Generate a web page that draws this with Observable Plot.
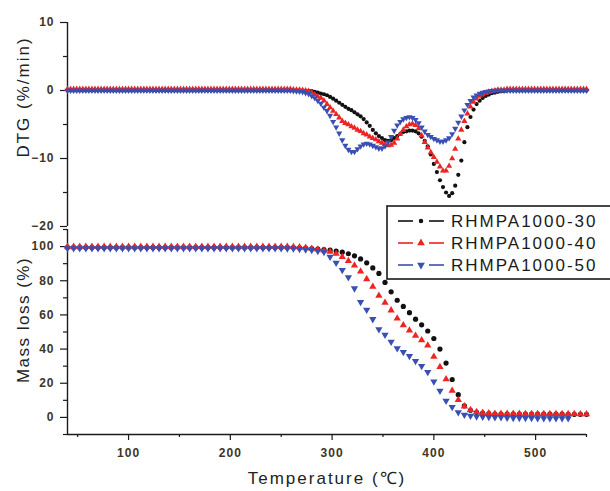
<!DOCTYPE html>
<html><head><meta charset="utf-8">
<script src="https://cdn.jsdelivr.net/npm/d3@7"></script>
<script src="https://cdn.jsdelivr.net/npm/@observablehq/plot@0.6"></script>
<style>
html,body{margin:0;padding:0;background:#fff;}
#wrap{position:relative;width:610px;height:491px;overflow:hidden;font-family:"Liberation Sans",Arial,sans-serif;background:#fff;}
.pane{position:absolute;left:0;}
.pane svg{overflow:visible;background:transparent;}
g[aria-label$="tick label"]{fill:#3d3525;font-weight:bold;letter-spacing:1px;}
.ttl{position:absolute;color:#222;white-space:nowrap;line-height:1;}
#legend{position:absolute;left:0;top:0;pointer-events:none;}
</style></head><body>
<div id="wrap">
  <div class="pane" id="top" style="top:0px"></div>
  <div class="pane" id="bot" style="top:220px"></div>
  <div class="ttl" style="left:23px;top:97px;font-size:17px;letter-spacing:2px;transform:translate(-50%,-50%) rotate(-90deg);">DTG (%/min)</div>
  <div class="ttl" style="left:23px;top:320px;font-size:17px;letter-spacing:1.5px;transform:translate(-50%,-50%) rotate(-90deg);">Mass loss (%)</div>
  <div class="ttl" style="left:327px;top:478px;font-size:17px;letter-spacing:2px;transform:translate(-50%,-50%);">Temperature (℃)</div>
</div>
<script>
// ---------- DATA ----------
const seriesNames = ["RHMPA1000-30", "RHMPA1000-40", "RHMPA1000-50"];
const seriesColors = ["#111111", "#ee2424", "#3a4fb2"];

// DTG sampled every 3 °C
const dtgTemps = [
  40,43,46,49,52,55,58,61,64,67,
  70,73,76,79,82,85,88,91,94,97,
  100,103,106,109,112,115,118,121,124,127,
  130,133,136,139,142,145,148,151,154,157,
  160,163,166,169,172,175,178,181,184,187,
  190,193,196,199,202,205,208,211,214,217,
  220,223,226,229,232,235,238,241,244,247,
  250,253,256,259,262,265,268,271,274,277,
  280,283,286,289,292,295,298,301,304,307,
  310,313,316,319,322,325,328,331,334,337,
  340,343,346,349,352,355,358,361,364,367,
  370,373,376,379,382,385,388,391,394,397,
  400,403,406,409,412,415,418,421,424,427,
  430,433,436,439,442,445,448,451,454,457,
  460,463,466,469,472,475,478,481,484,487,
  490,493,496,499,502,505,508,511,514,517,
  520,523,526,529,532,535,538,541,544,547,
  550
];
const dtg30 = [
  0,0,0,0,0,0,0,0,0,0,
  0,0,0,0,0,0,0,0,0,0,
  0,0,0,0,0,0,0,0,0,0,
  0,0,0,0,0,0,0,0,0,0,
  0,0,0,0,0,0,0,0,0,0,
  0,0,0,0,0,0,0,0,0,0,
  0,0,0,0,0,0,0,0,0,0,
  0,0,0,0,0,0,0,0,-0.05,-0.1,
  -0.1,-0.2,-0.3,-0.45,-0.55,-0.7,-0.95,-1.2,-1.5,-1.8,
  -2.1,-2.4,-2.7,-2.9,-3.2,-3.5,-3.8,-4.2,-4.7,-5.2,
  -5.8,-6.3,-6.7,-7.0,-7.3,-7.4,-7.3,-7.0,-6.7,-6.4,
  -6.1,-6.0,-5.9,-5.9,-6.0,-6.3,-6.8,-7.4,-8.2,-9.4,
  -10.8,-12.0,-13.2,-14.2,-15.0,-15.5,-15.1,-14.0,-12.4,-10.3,
  -7.6,-5.4,-3.9,-2.8,-2.0,-1.5,-1.1,-0.8,-0.6,-0.4,
  -0.3,-0.2,-0.1,-0.1,0,0,0,0,0,0,
  0,0,0,0,0,0,0,0,0,0,
  0,0,0,0,0,0,0,0,0,0,
  0
];
const dtg40 = [
  0.2,0.2,0.2,0.2,0.2,0.2,0.2,0.2,0.2,0.2,
  0.2,0.2,0.2,0.2,0.2,0.2,0.2,0.2,0.2,0.2,
  0.2,0.2,0.2,0.2,0.2,0.2,0.2,0.2,0.2,0.2,
  0.2,0.2,0.2,0.2,0.2,0.2,0.2,0.2,0.2,0.2,
  0.2,0.2,0.2,0.2,0.2,0.2,0.2,0.2,0.2,0.2,
  0.2,0.2,0.2,0.2,0.2,0.2,0.2,0.2,0.2,0.2,
  0.2,0.2,0.2,0.2,0.2,0.2,0.2,0.2,0.2,0.2,
  0.2,0.2,0.2,0.2,0.15,0.1,0.1,0.05,0,-0.1,
  -0.3,-0.6,-0.9,-1.1,-1.5,-2.0,-2.5,-3.0,-3.5,-4.0,
  -4.5,-4.8,-5.0,-5.3,-5.5,-5.8,-6.0,-6.3,-6.5,-6.8,
  -7.0,-7.2,-7.5,-7.7,-7.9,-8.1,-8.0,-7.7,-7.1,-6.4,
  -5.8,-5.3,-5.0,-4.9,-5.1,-5.6,-6.6,-7.6,-8.4,-9.1,
  -9.8,-10.5,-11.2,-11.8,-11.8,-11.1,-10.0,-8.6,-7.1,-5.8,
  -4.5,-3.4,-2.4,-1.7,-1.2,-0.8,-0.6,-0.4,-0.2,-0.1,
  0,0.1,0.1,0.1,0.2,0.2,0.2,0.2,0.2,0.2,
  0.2,0.2,0.2,0.2,0.2,0.2,0.2,0.2,0.2,0.2,
  0.2,0.2,0.2,0.2,0.2,0.2,0.2,0.2,0.2,0.2,
  0.2
];
const dtg50 = [
  0,0,0,0,0,0,0,0,0,0,
  0,0,0,0,0,0,0,0,0,0,
  0,0,0,0,0,0,0,0,0,0,
  0,0,0,0,0,0,0,0,0,0,
  0,0,0,0,0,0,0,0,0,0,
  0,0,0,0,0,0,0,0,0,0,
  0,0,0,0,0,0,0,0,0,0,
  0,0,0,0,-0.05,-0.1,-0.15,-0.2,-0.35,-0.5,
  -0.8,-1.1,-1.5,-1.9,-2.5,-3.0,-3.7,-4.6,-5.4,-6.3,
  -7.3,-8.1,-8.7,-9.0,-9.0,-8.6,-8.2,-7.9,-7.8,-7.9,
  -8.1,-8.3,-8.5,-8.5,-8.2,-7.6,-6.8,-5.9,-5.1,-4.6,
  -4.2,-4.0,-3.9,-4.0,-4.3,-4.8,-5.4,-6.0,-6.5,-6.8,
  -7.1,-7.3,-7.5,-7.5,-7.3,-7.0,-6.4,-5.6,-4.7,-3.8,
  -2.9,-2.1,-1.5,-1.0,-0.7,-0.45,-0.3,-0.2,-0.1,-0.05,
  0,0,0,0,0,0,0,0,0,0,
  0,0,0,0,0,0,0,0,0,0,
  0,0,0,0,0,0,0,0,0,0,
  0
];

// Mass loss sampled every 6 °C
const tgaTemps = [
  40,46,52,58,64,70,76,82,88,94,
  100,106,112,118,124,130,136,142,148,154,
  160,166,172,178,184,190,196,202,208,214,
  220,226,232,238,244,250,256,262,268,274,
  280,286,292,298,304,310,316,322,328,334,
  340,346,352,358,364,370,376,382,388,394,
  400,406,412,418,424,430,436,442,448,454,
  460,466,472,478,484,490,496,502,508,514,
  520,526,532,538,544,550
];
const tga30 = [
  99.5,99.5,99.5,99.5,99.5,99.5,99.5,99.5,99.5,99.5,
  99.5,99.5,99.5,99.5,99.5,99.5,99.5,99.5,99.5,99.5,
  99.5,99.5,99.5,99.5,99.5,99.5,99.5,99.5,99.5,99.5,
  99.5,99.5,99.5,99.5,99.5,99.5,99.5,99.4,99.3,99.1,
  98.8,98.5,98.2,97.9,97.4,96.7,95.8,94.6,92.8,90.5,
  87.5,84.3,79.0,73.5,68.6,65.0,61.3,57.5,54.2,50.6,
  46.2,40.0,31.8,22.2,13.3,6.8,4.2,3.0,2.5,2.2,
  2.0,2.0,2.0,2.0,2.0,1.9,1.9,1.9,1.9,1.9,
  1.9,1.9,1.8,1.8,1.8,1.8
];
const tga40 = [
  100,100,100,100,100,100,100,100,100,100,
  100,100,100,100,100,100,100,100,100,100,
  100,100,100,100,100,100,100,100,100,100,
  100,100,100,100,100,100,99.9,99.8,99.6,99.3,
  98.8,98.3,97.7,97.0,95.8,94.0,91.6,89.0,85.4,81.0,
  76.5,71.3,67.2,62.7,58.0,54.0,50.9,47.8,45.2,42.1,
  35.5,29.5,22.4,15.6,10.2,6.5,4.4,3.2,2.7,2.4,
  2.2,2.2,2.2,2.2,2.2,2.1,2.1,2.1,2.1,2.1,
  2.1,2.0,2.0,2.0,1.9,1.9
];
const tga50 = [
  99,99,99,99,99,99,99,99,99,99,
  99,99,99,99,99,99,99,99,99,99,
  99,99,99,99,99,99,99,99,99,99,
  99,99,99,99,99,99,98.9,98.8,98.6,98.3,
  97.9,97.4,96.8,94.0,90.5,86.3,82.0,75.5,67.5,63.0,
  57.5,51.6,48.3,44.3,40.4,38.2,35.9,33.0,30.0,26.5,
  21.0,15.6,9.7,6.0,3.0,1.5,0.9,0.5,0.3,0.2,
  0,0,-0.2,-0.3,-0.3,-0.4,-0.4,-0.5,-0.5,-0.5,
  -0.5,-0.5,-0.5,null,null,null
];

const xDomain = [40, 550];
const xMajor = [100, 200, 300, 400, 500];
const xMinor = [50, 150, 250, 350, 450, 550];
const dtgDomain = [-20, 10];
const dtgMajor = [-20, -10, 0, 10];
const dtgMinor = [-15, -5, 5];
const tgaDomain = [-10, 110];
const tgaMajor = [0, 20, 40, 60, 80, 100];
const tgaMinor = [-10, 10, 30, 50, 70, 90, 110];

// ---------- SYMBOLS ----------
const triangleDown = {
  draw(context, size) {
    const y = -Math.sqrt(size / (Math.sqrt(3) * 3));
    context.moveTo(0, -y * 2);
    context.lineTo(-Math.sqrt(3) * y, y);
    context.lineTo(Math.sqrt(3) * y, y);
    context.closePath();
  }
};
const seriesSymbols = ["circle", "triangle", triangleDown];
const dtgValues = [dtg30, dtg40, dtg50];
const tgaValues = [tga30, tga40, tga50];

const dtgRows = seriesNames.map((name, s) =>
  dtgTemps.map((t, i) => ({t, v: dtgValues[s][i], name})).filter(d => d.v != null));
const tgaRows = seriesNames.map((name, s) =>
  tgaTemps.map((t, i) => ({t, v: tgaValues[s][i], name})).filter(d => d.v != null));

const common = {
  width: 610,
  marginLeft: 67,
  marginRight: 24,
  style: {fontFamily: "Liberation Sans, Arial, sans-serif", fontSize: "12px", color: "#1a1a1a", background: "transparent", overflow: "visible"}
};
const axisStroke = "#1a1a1a";

// ---------- TOP: DTG ----------
const topPlot = Plot.plot({
  ...common,
  height: 228,
  marginTop: 22,
  marginBottom: 2,
  x: {domain: xDomain, axis: null},
  y: {domain: dtgDomain},
  marks: [
    Plot.ruleX([xDomain[0]], {stroke: axisStroke, strokeWidth: 1.4}),
    Plot.axisY({ticks: dtgMajor, tickSize: 7, tickPadding: 6, fontSize: 12, label: null, stroke: axisStroke, strokeWidth: 1.2}),
    Plot.axisY({ticks: dtgMinor, tickSize: 4, tickFormat: () => "", label: null, stroke: axisStroke, strokeWidth: 1.2}),
    ...dtgRows.map((rows, s) => Plot.dot(rows, {
      x: "t", y: "v", symbol: seriesSymbols[s], fill: seriesColors[s], stroke: "none",
      r: s === 0 ? 2.1 : 2.3
    }))
  ]
});
document.getElementById("top").appendChild(topPlot);

// ---------- BOTTOM: Mass loss ----------
const botPlot = Plot.plot({
  ...common,
  height: 271,
  marginTop: 9,
  marginBottom: 57,
  x: {domain: xDomain},
  y: {domain: tgaDomain},
  marks: [
    Plot.ruleX([xDomain[0]], {stroke: axisStroke, strokeWidth: 1.4}),
    Plot.ruleY([tgaDomain[0]], {stroke: axisStroke, strokeWidth: 1.4}),
    Plot.axisY({ticks: tgaMajor, tickSize: 7, tickPadding: 6, fontSize: 12, label: null, stroke: axisStroke, strokeWidth: 1.2}),
    Plot.axisY({ticks: tgaMinor, tickSize: 4, tickFormat: () => "", label: null, stroke: axisStroke, strokeWidth: 1.2}),
    Plot.axisX({ticks: xMajor, tickSize: 6, tickPadding: 8, fontSize: 12, label: null, stroke: axisStroke, strokeWidth: 1.2}),
    Plot.axisX({ticks: xMinor, tickSize: 3, tickFormat: () => "", label: null, stroke: axisStroke, strokeWidth: 1.2}),
    ...tgaRows.map((rows, s) => Plot.dot(rows, {
      x: "t", y: "v", symbol: seriesSymbols[s], fill: seriesColors[s], stroke: "none",
      r: s === 0 ? 2.6 : 2.7
    }))
  ]
});
document.getElementById("bot").appendChild(botPlot);

// ---------- LEGEND ----------
const lg = d3.select("#wrap").append("svg")
  .attr("id", "legend").attr("width", 610).attr("height", 491);
lg.append("rect").attr("x", 387).attr("y", 206).attr("width", 240).attr("height", 73)
  .attr("fill", "#fff").attr("stroke", "#1a1a1a").attr("stroke-width", 1.6);
seriesNames.forEach((name, s) => {
  const cy = 221 + s * 22;
  const g = lg.append("g");
  g.append("line").attr("x1", 398).attr("x2", 413).attr("y1", cy).attr("y2", cy)
    .attr("stroke", seriesColors[s]).attr("stroke-width", 1.6);
  g.append("line").attr("x1", 429).attr("x2", 444).attr("y1", cy).attr("y2", cy)
    .attr("stroke", seriesColors[s]).attr("stroke-width", 1.6);
  const symType = s === 0 ? d3.symbolCircle : s === 1 ? d3.symbolTriangle : triangleDown;
  g.append("path").attr("d", d3.symbol(symType, s === 0 ? 16 : 26)())
    .attr("transform", `translate(421,${cy})`).attr("fill", seriesColors[s]);
  g.append("text").attr("x", 451).attr("y", cy).attr("dy", "0.36em")
    .attr("font-family", "Liberation Sans, Arial, sans-serif").attr("font-size", 17)
    .attr("letter-spacing", "2px").attr("fill", "#1a1a1a").text(name);
});
</script>
</body></html>
